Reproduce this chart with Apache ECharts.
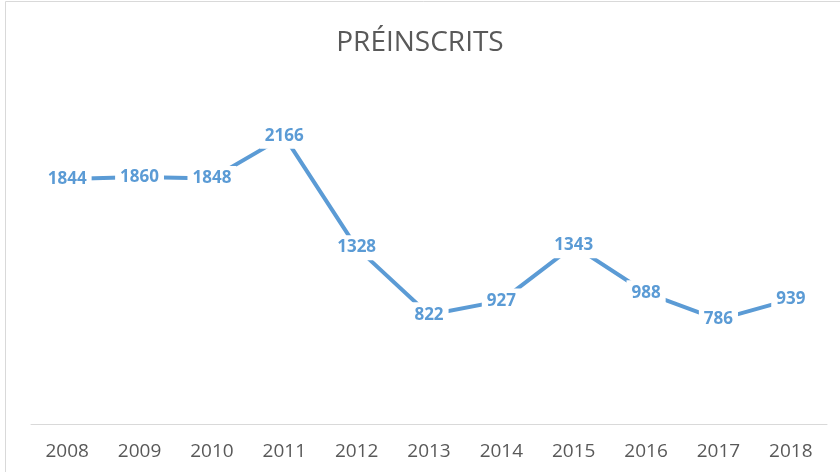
<!DOCTYPE html>
<html>
<head>
<meta charset="utf-8">
<script src="https://cdn.jsdelivr.net/npm/echarts@6/dist/echarts.min.js"></script>
<style>
  html, body { margin: 0; padding: 0; background: #fff; }
  #chart { width: 840px; height: 472px; }
</style>
</head>
<body>
<div id="chart"></div>
<script>
var years = ['2008', '2009', '2010', '2011', '2012', '2013', '2014', '2015', '2016', '2017', '2018'];
var preinscrits = [1844, 1860, 1848, 2166, 1328, 822, 927, 1343, 988, 786, 939];

var myChart = echarts.init(document.getElementById('chart'));
var fontFam = '"Open Sans", sans-serif';

var option = {
    backgroundColor: '#fff',
    animation: false,
    graphic: [{
        type: 'rect',
        shape: { x: 5.5, y: 1.5, width: 840, height: 480 },
        style: { fill: 'none', stroke: '#d9d9d9', lineWidth: 1 },
        silent: true
    }],
    title: {
        text: 'PRÉINSCRITS',
        left: 'center',
        top: 24,
        textStyle: { color: '#595959', fontSize: 28, fontWeight: 'normal', fontFamily: fontFam }
    },
    grid: { left: 31, right: 13, top: 92, bottom: 48 },
    xAxis: {
        type: 'category',
        data: years,
        boundaryGap: true,
        axisLine: { lineStyle: { color: '#d9d9d9', width: 1 } },
        axisTick: { show: false },
        axisLabel: { color: '#595959', fontSize: 19, margin: 18, fontFamily: fontFam }
    },
    yAxis: {
        type: 'value',
        min: 0,
        max: 2500,
        show: false,
        splitLine: { show: false }
    },
    series: [{
        type: 'line',
        data: preinscrits,
        symbol: 'circle',
        symbolSize: 2,
        itemStyle: { color: 'rgba(91,155,213,0)', borderWidth: 0 },
        lineStyle: { color: '#5b9bd5', width: 4 },
        label: {
            show: true,
            position: 'inside',
            color: '#5b9bd5',
            fontSize: 17,
            fontWeight: 'bold',
            fontFamily: fontFam,
            backgroundColor: '#fff',
            padding: [4, 5]
        }
    }]
};
myChart.setOption(option);
</script>
</body>
</html>
